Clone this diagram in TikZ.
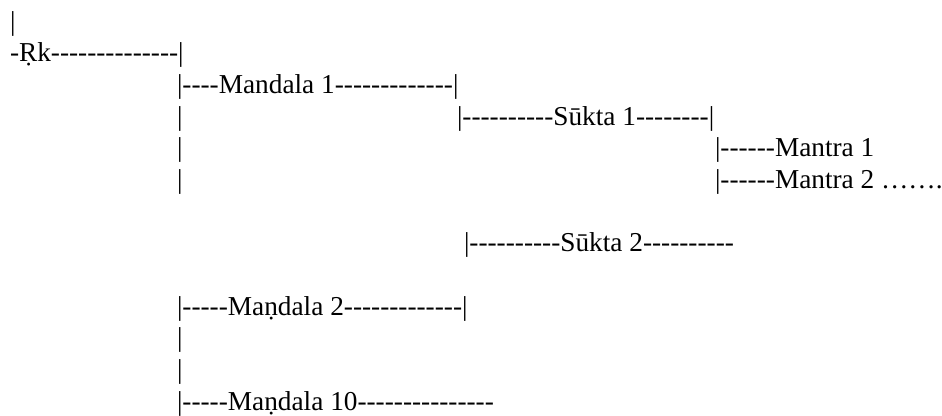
\documentclass[tikz,border=0pt]{standalone}
\usepackage{fontspec}
\setmainfont{Liberation Serif}[Ligatures=TeXOff]
\begin{document}
\begin{tikzpicture}[x=1pt,y=-1pt]
\tikzset{ln/.style={anchor=base west,inner sep=0pt,outer sep=0pt,font=\fontsize{27.3pt}{31pt}\selectfont}}
\useasboundingbox (0,0) rectangle (942,415);
\node[ln] (n1) at (10,30) {|};
\node[ln] (n2) at (10,61.5) {-Ṛk--------------|};
\node[ln] (n3) at (177,93) {|----Mandala 1-------------|};
\node[ln] (n4a) at (177,125) {|};
\node[ln] (n4b) at (457,125) {|----------Sūkta 1--------|};
\node[ln] (n5a) at (177,156.5) {|};
\node[ln] (n5b) at (715,156.5) {|------Mantra 1};
\node[ln] (n6a) at (177,188) {|};
\node[ln] (n6b) at (715,188) {|------Mantra 2 …….};
\node[ln] (n7) at (464,251.5) {|----------Sūkta 2----------};
\node[ln] (n8) at (177,315) {|-----Maṇdala 2-------------|};
\node[ln] (n9) at (177,346.5) {|};
\node[ln] (n10) at (177,378) {|};
\node[ln] (n11) at (177,410) {|-----Maṇdala 10---------------};
\end{tikzpicture}
\end{document}
